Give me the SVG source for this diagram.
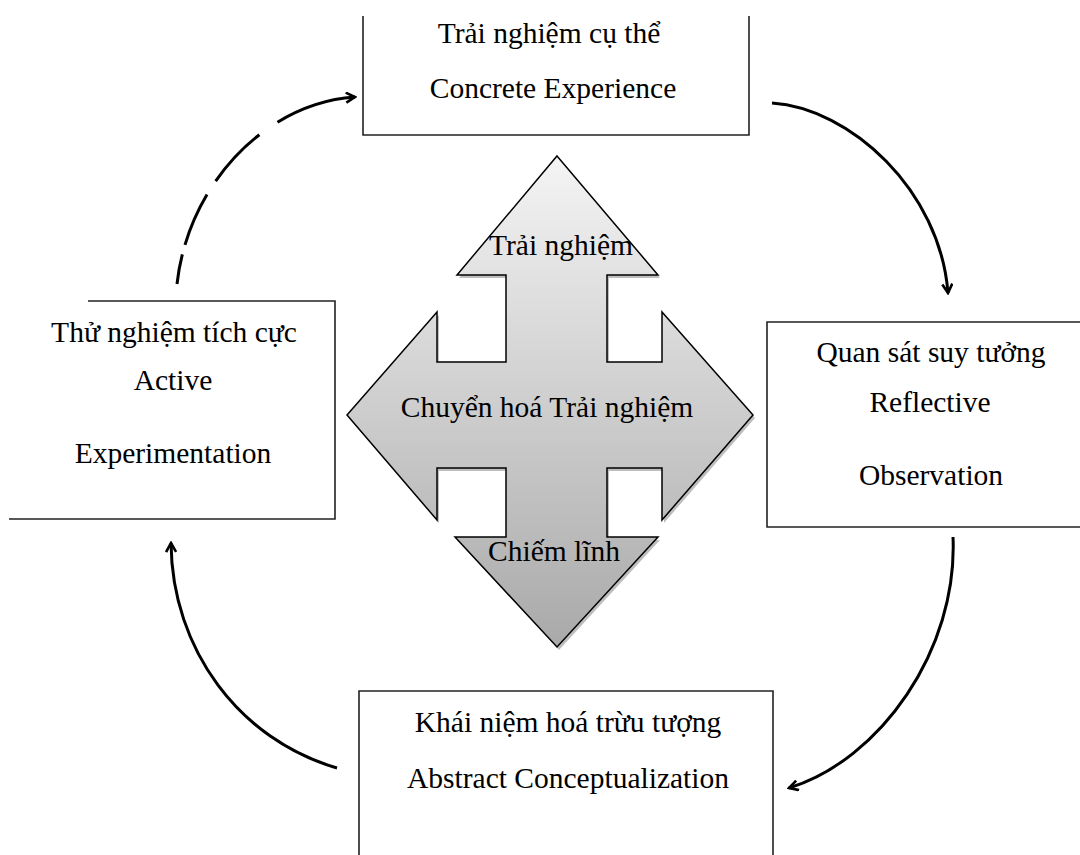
<svg xmlns="http://www.w3.org/2000/svg" width="1080" height="855" viewBox="0 0 1080 855">
<defs>
<style>
.box{fill:#fff;stroke:#222;stroke-width:1.6}
.t{font-family:"Liberation Serif","Times New Roman",serif;font-size:29.5px;fill:#000;text-anchor:middle}
.arc{fill:none;stroke:#000;stroke-width:3;stroke-linecap:butt}
</style>
<linearGradient id="g" x1="0" y1="156" x2="0" y2="647" gradientUnits="userSpaceOnUse">
<stop offset="0" stop-color="#f4f4f4"/>
<stop offset="1" stop-color="#a9a9a9"/>
</linearGradient>
<marker id="ah" viewBox="0 0 12 12" refX="10" refY="6" markerWidth="12" markerHeight="12" markerUnits="userSpaceOnUse" orient="auto">
<path d="M1,1 L10,6 L1,11" fill="none" stroke="#000" stroke-width="2.6" stroke-linejoin="miter"/>
</marker>
</defs>
<rect width="1080" height="855" fill="#fff"/>

<g id="center">
<polygon points="557,156 658,275 607,275 607,362 662,362 662,312 753,415 662,520 662,468 607,468 607,537 658,537 557,647 455,537 506,537 506,468 437,468 437,520 347,415 437,312 437,362 506,362 506,275 457,275" transform="translate(2,3)" fill="#888" opacity="0.55"/>
<polygon points="557,156 658,275 607,275 607,362 662,362 662,312 753,415 662,520 662,468 607,468 607,537 658,537 557,647 455,537 506,537 506,468 437,468 437,520 347,415 437,312 437,362 506,362 506,275 457,275" fill="url(#g)" stroke="#000" stroke-width="1.5" stroke-linejoin="miter"/>
<text class="t" x="561" y="255">Trải nghiệm</text>
<text class="t" x="547" y="417">Chuyển hoá Trải nghiệm</text>
<text class="t" x="554" y="561">Chiếm lĩnh</text>
</g>

<g id="top">
<path class="box" d="M363,16 L363,135 L749,135 L749,16"/>
<text class="t" x="549" y="43">Trải nghiệm cụ thể</text>
<text class="t" x="553" y="98">Concrete Experience</text>
</g>

<g id="left">
<path class="box" d="M88,301 L335,301 L335,519 L9,519"/>
<text class="t" x="174" y="342">Thử nghiệm tích cực</text>
<text class="t" x="173" y="390">Active</text>
<text class="t" x="173" y="463">Experimentation</text>
</g>

<g id="right">
<path class="box" d="M1080,322 L767,322 L767,527 L1080,527"/>
<text class="t" x="931" y="362">Quan sát suy tưởng</text>
<text class="t" x="930" y="412">Reflective</text>
<text class="t" x="931" y="485">Observation</text>
</g>

<g id="bottom">
<path class="box" d="M359,856 L359,691 L773,691 L773,856"/>
<text class="t" x="568" y="732">Khái niệm hoá trừu tượng</text>
<text class="t" x="568" y="788">Abstract Conceptualization</text>
</g>

<g id="connectors">
<path class="arc" d="M772,103 C850,108 940,190 948,293" marker-end="url(#ah)"/>
<path class="arc" d="M953,537 C958,650 880,760 789,788" marker-end="url(#ah)"/>
<path class="arc" d="M337,768 C240,740 172,650 171,543" marker-end="url(#ah)"/>
<path class="arc" d="M177,284 C188,185 265,103 355,97" stroke-dasharray="30 10 55 16 64 22 400" marker-end="url(#ah)"/>
</g>
</svg>
